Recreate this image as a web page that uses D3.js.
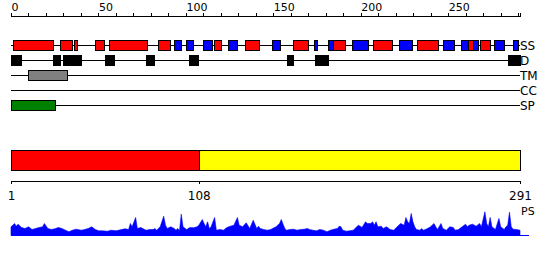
<!DOCTYPE html>
<html><head><meta charset="utf-8">
<script src="https://cdn.jsdelivr.net/npm/d3@7"></script>
<style>
html,body{margin:0;padding:0;background:#fff;}
svg{display:block;font-family:"DejaVu Sans",sans-serif;}
</style></head>
<body>
<svg id="chart" width="550" height="260"></svg>
<script>
// ---- data ----
const seqLength = 291;
const trackNames = ["SS", "D", "TM", "CC", "SP"];
// secondary structure: [start, end, type]  H = helix (red), E = strand (blue)
const ssStart = [1,28,36,48,56,84,93,100,110,116,124,134,149,161,173,181,184,195,207,222,232,247,257,261,264,268,276,287];
const ssEnd   = [24,35,38,53,78,91,97,104,115,120,129,142,154,170,175,184,191,204,218,229,244,253,261,264,267,274,282,290];
const ssType  = ["H","H","H","H","H","H","E","E","E","H","E","H","E","H","E","E","H","E","H","E","H","E","E","H","E","H","E","E"];
// disordered regions
const dStart = [0,24,30,54,77,102,158,174,284];
const dEnd   = [6,28,40,59,82,107,161,181,291];
// transmembrane
const tmStart = [10];
const tmEnd   = [32];
// coiled coil: none
const ccStart = [];
const ccEnd   = [];
// signal peptide
const spStart = [0];
const spEnd   = [25];
// domain bar
const domStart = [1,108];
const domEnd   = [108,291];
const domColor = ["#ff0000","#ffff00"];
const bottomTicks = [1,108,291];
// PS profile: residue, score
const psPos = [1,2,3,4,5,7,9,11,13,15,17,19,20,22,24,26,28,30,32,34,36,38,39,41,43,45,47,49,51,53,56,58,61,64,66,68,69,70,72,73,75,76,78,80,82,83,84,86,88,89,90,92,94,95,96,97,98,99,101,103,105,107,108,110,111,112,113,114,115,117,118,120,122,124,126,128,130,131,133,135,137,139,141,142,143,145,147,149,150,152,154,155,156,157,158,160,162,164,166,168,170,171,173,175,177,179,181,183,185,187,188,189,190,192,194,196,198,199,201,203,204,206,207,208,209,210,212,213,215,217,219,221,223,225,226,227,228,229,230,231,232,234,235,236,238,240,242,243,244,246,247,249,251,253,254,256,258,260,261,262,264,266,268,269,271,272,273,274,275,277,279,280,282,283,284,285,286,287,289,291];
const psVal = [8.7,10.3,12,9.3,11.3,8,7,8.7,6,7,8,8.7,12,7,6,6.7,8,7,5.3,3.7,5.3,6.3,6,5.3,6,7,8.7,6,4.7,4.7,4.3,5.3,4.7,6,6.7,6,12,8.7,18,7,8,7,5.3,6,6,7,5.3,8.7,19.3,10.3,7,8.7,7,5.3,7,4.7,21.3,8.7,6,8,7.7,8.7,10.3,16,12,8.7,13.7,7,8.7,18,5.3,6,5.3,8,9.3,10.3,18,10.3,8.7,12.7,7,15.3,7,9.3,7,6,5.3,6,7,8.7,12,16,11.3,7,5.3,6,6.3,5.3,6,6.3,7,6,5.3,4.7,6,5.3,3.7,5.3,6.3,7,9.3,8.7,5.3,4.3,4.7,5.3,8.7,10.3,8,13.7,12,12,13.7,10.3,13.7,8.7,9.3,7,8.7,6,5.3,8.7,12,10.3,18,13.7,12,22,13.7,8.7,6,5.3,7,5.3,6.7,8.7,12,8.7,6,12,7,5.3,8.7,8,5.3,6,8.7,11.3,8.7,10.3,11.3,9.3,12,8.7,23.7,12,8.7,18,8.7,6,17,8.7,6,8.7,10.3,23.3,8.7,6.3,6,5.3];

// ---- drawing ----
const svg = d3.select("#chart");
const x = d3.scaleLinear().domain([0, seqLength]).range([11, 520]);
const xb = d3.scaleLinear().domain([1, seqLength]).range([11, 520]);

// top axis
const topAxis = d3.axisTop(x)
  .tickValues(d3.range(0, seqLength, 10))
  .tickSize(3).tickSizeOuter(3)
  .tickFormat(d => d % 50 === 0 ? d : "");
const gTop = svg.append("g").attr("transform", "translate(0,15.5)").call(topAxis);
gTop.selectAll("path,line").attr("stroke", "#000").attr("shape-rendering", "crispEdges");
gTop.selectAll("text").attr("text-anchor", "start").attr("y", -4.5).attr("dy", null)
  .attr("font-size", 11).attr("font-family", "DejaVu Sans").attr("fill", "#000");

// tracks
const rowY = d3.scalePoint().domain(trackNames).range([45, 105]);
const tracks = {
  SS: ssStart.map((s, i) => ({s, e: ssEnd[i], c: ssType[i] === "H" ? "#ff0000" : "#0000ff"})),
  D: dStart.map((s, i) => ({s, e: dEnd[i], c: "#000000"})),
  TM: tmStart.map((s, i) => ({s, e: tmEnd[i], c: "#808080"})),
  CC: ccStart.map((s, i) => ({s, e: ccEnd[i], c: "#000000"})),
  SP: spStart.map((s, i) => ({s, e: spEnd[i], c: "#008000"}))
};
trackNames.forEach(name => {
  const y = rowY(name) + 0.5;
  const g = svg.append("g");
  g.append("line").attr("x1", x(0)).attr("x2", x(seqLength)).attr("y1", y).attr("y2", y)
    .attr("stroke", "#000").attr("shape-rendering", "crispEdges");
  g.selectAll("rect").data(tracks[name]).join("rect")
    .attr("x", d => Math.round(x(d.s)) + 0.5)
    .attr("width", d => Math.max(1, Math.round(x(d.e)) - Math.round(x(d.s))))
    .attr("y", y - 5).attr("height", 10)
    .attr("fill", d => d.c).attr("stroke", "#000").attr("shape-rendering", "crispEdges");
  g.append("text").attr("x", 520).attr("y", rowY(name) + 4.5)
    .attr("font-size", 12).attr("fill", "#000").text(name);
});

// domain bar
svg.append("g").selectAll("rect").data(domStart.map((s, i) => ({s, e: domEnd[i], c: domColor[i]}))).join("rect")
  .attr("x", d => Math.round(xb(d.s)) + 0.5)
  .attr("width", d => Math.round(xb(d.e)) - Math.round(xb(d.s)))
  .attr("y", 150.5).attr("height", 20)
  .attr("fill", d => d.c).attr("stroke", "#000").attr("shape-rendering", "crispEdges");

// bottom axis
const botAxis = d3.axisBottom(xb).tickValues(bottomTicks).tickSize(3).tickSizeOuter(0);
const gBot = svg.append("g").attr("transform", "translate(0,180.5)").call(botAxis);
gBot.selectAll("path,line").attr("stroke", "#000").attr("shape-rendering", "crispEdges");
gBot.selectAll("text").attr("y", 19.5).attr("dy", null)
  .attr("font-size", 12).attr("font-family", "DejaVu Sans").attr("fill", "#000");

// PS profile
const yps = d3.scaleLinear().domain([0, 25]).range([235.5, 210.5]);
const psData = psPos.map((p, i) => ({p, v: psVal[i]}));
svg.append("path").datum(psData)
  .attr("d", d3.area().x(d => xb(d.p)).y0(yps(0)).y1(d => yps(d.v)))
  .attr("fill", "#0000ff").attr("stroke", "#0000ff").attr("stroke-width", 0.6);
svg.append("line").attr("x1", xb(1)).attr("x2", xb(seqLength) + 9).attr("y1", 235.5).attr("y2", 235.5)
  .attr("stroke", "#0000ff").attr("shape-rendering", "crispEdges");
svg.append("text").attr("x", 521).attr("y", 215).attr("font-size", 11).attr("fill", "#000").text("PS");
</script>
</body></html>
